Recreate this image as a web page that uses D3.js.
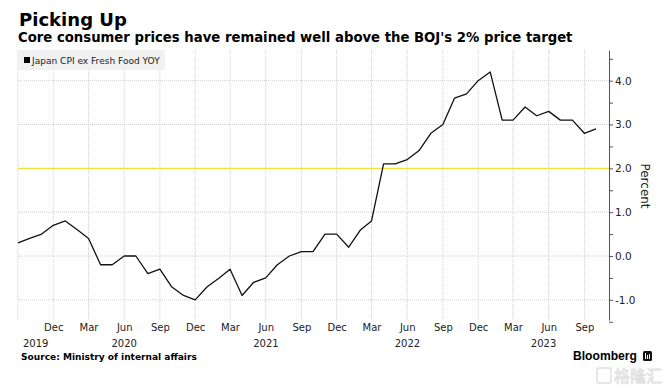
<!DOCTYPE html>
<html lang="en">
<head>
<meta charset="utf-8">
<title>Picking Up</title>
<script src="https://cdnjs.cloudflare.com/ajax/libs/d3/7.8.5/d3.min.js"></script>
<style>
  body { margin: 0; background: #fff; }
  svg { font-family: "DejaVu Sans", sans-serif; }
</style>
</head>
<body>
<script>
// Japan CPI ex Fresh Food, YoY %, monthly from Sep 2019 to Oct 2023
var firstMonth = [2019, 8];
var cpiValues = [
  0.3, 0.4, 0.5, 0.7,                                              // 2019 Sep-Dec
  0.8, 0.6, 0.4, -0.2, -0.2, 0.0, 0.0, -0.4, -0.3, -0.7, -0.9, -1.0, // 2020
  -0.7, -0.5, -0.3, -0.9, -0.6, -0.5, -0.2, 0.0, 0.1, 0.1, 0.5, 0.5, // 2021
  0.2, 0.6, 0.8, 2.1, 2.1, 2.2, 2.4, 2.8, 3.0, 3.6, 3.7, 4.0,        // 2022
  4.2, 3.1, 3.1, 3.4, 3.2, 3.3, 3.1, 3.1, 2.8, 2.9                   // 2023 Jan-Oct
];
var yTickValues = [-1.5, -1, -0.5, 0, 0.5, 1, 1.5, 2, 2.5, 3, 3.5, 4, 4.5];
var yGridValues = [-1, 0, 1, 3, 4];
var targetValue = 2;
var years = [2019, 2020, 2021, 2022, 2023];

var dates = cpiValues.map(function(v, i) {
  return d3.utcMonth.offset(new Date(Date.UTC(firstMonth[0], firstMonth[1], 1)), i);
});
var data = dates.map(function(d, i) { return { date: d, value: cpiValues[i] }; });

var plotLeft = 18, plotRight = 609, plotTop = 50, plotBottom = 320;

var svg = d3.select("body").append("svg")
  .attr("width", 670)
  .attr("height", 390);

var x = d3.scaleUtc()
  .domain([dates[0], dates[dates.length - 1]])
  .range([18, 596]);
var y = d3.scaleLinear()
  .domain([-1.46, 4.70])
  .range([plotBottom, plotTop]);

// fit a text to a measured width by scaling its font size
function fit(t, w) {
  var l = t.node().getComputedTextLength();
  t.attr("font-size", parseFloat(t.attr("font-size")) * w / l);
}

// titles
fit(svg.append("text").attr("x", 19).attr("y", 26)
  .attr("font-size", 20).attr("font-weight", "bold").attr("fill", "#000")
  .text("Picking Up"), 108);
fit(svg.append("text").attr("x", 18).attr("y", 42)
  .attr("font-size", 13).attr("font-weight", "bold").attr("fill", "#000")
  .text("Core consumer prices have remained well above the BOJ's 2% price target"), 555);

// vertical grid at Dec/Mar/Jun/Sep
var monthTicks = dates.filter(function(d) { return d.getUTCMonth() % 3 === 2; });
var grid = svg.append("g");
grid.selectAll(".vg").data(monthTicks).enter().append("line")
  .attr("x1", function(d) { return x(d); }).attr("x2", function(d) { return x(d); })
  .attr("y1", plotTop).attr("y2", plotBottom)
  .attr("stroke", "#cfcfcf").attr("stroke-dasharray", "1,1");
grid.selectAll(".hg").data(yGridValues).enter().append("line")
  .attr("x1", plotLeft).attr("x2", plotRight)
  .attr("y1", function(d) { return y(d); }).attr("y2", function(d) { return y(d); })
  .attr("stroke", "#cfcfcf").attr("stroke-dasharray", "1,1");

// legend
svg.append("rect").attr("x", 17).attr("y", 50).attr("width", 148).attr("height", 20)
  .attr("fill", "#f0f0f0").attr("opacity", 0.9);
svg.append("rect").attr("x", 24).attr("y", 57).attr("width", 6).attr("height", 6).attr("fill", "#000");
fit(svg.append("text").attr("x", 32).attr("y", 64)
  .attr("font-size", 9).attr("fill", "#222")
  .text("Japan CPI ex Fresh Food YOY"), 128);

// target line
svg.append("line")
  .attr("x1", plotLeft).attr("x2", plotRight)
  .attr("y1", y(targetValue)).attr("y2", y(targetValue))
  .attr("stroke", "#f0e03c").attr("stroke-width", 1.2);

// series
svg.append("path").datum(data)
  .attr("fill", "none").attr("stroke", "#111").attr("stroke-width", 1.3)
  .attr("stroke-linejoin", "round")
  .attr("d", d3.line().x(function(d) { return x(d.date); }).y(function(d) { return y(d.value); }));

// right axis
var yAxis = svg.append("g")
  .attr("transform", "translate(" + plotRight + ",0)")
  .call(d3.axisRight(y).tickValues(yTickValues).tickSize(4).tickSizeOuter(0).tickPadding(2)
    .tickFormat(function(d) { return Number.isInteger(d) ? d.toFixed(1) : ""; }));
yAxis.select(".domain").attr("stroke", "#555");
yAxis.selectAll(".tick line").attr("stroke", "#555");
yAxis.selectAll("text").attr("font-size", 10.5).attr("font-family", "DejaVu Sans").attr("fill", "#222");

svg.append("text")
  .attr("transform", "translate(641,186) rotate(90)")
  .attr("text-anchor", "middle").attr("font-size", 12).attr("fill", "#222")
  .text("Percent");

// bottom month labels
var xAxis = svg.append("g")
  .attr("transform", "translate(0,324)")
  .call(d3.axisBottom(x).tickValues(monthTicks.slice(1)).tickSize(0).tickPadding(0)
    .tickFormat(d3.utcFormat("%b")));
xAxis.select(".domain").remove();
xAxis.selectAll("text").attr("font-size", 10).attr("font-family", "DejaVu Sans").attr("fill", "#222");

// year labels centred on each year's span
var xEnd = plotRight;
svg.selectAll(".yr").data(years).enter().append("text")
  .attr("x", function(yr) {
    var a = Math.max(x(new Date(Date.UTC(yr - 1, 11, 1))), plotLeft);
    var b = Math.min(x(new Date(Date.UTC(yr, 11, 1))), xEnd);
    return (a + b) / 2;
  })
  .attr("y", 347).attr("text-anchor", "middle")
  .attr("font-size", 10).attr("fill", "#222")
  .text(function(yr) { return yr; });

// footer
fit(svg.append("text").attr("x", 21).attr("y", 360)
  .attr("font-size", 9).attr("font-weight", "bold").attr("fill", "#000")
  .text("Source: Ministry of internal affairs"), 176);
fit(svg.append("text").attr("x", 573).attr("y", 360)
  .attr("font-size", 11).attr("font-weight", "bold").attr("fill", "#000")
  .attr("font-family", "Liberation Sans, sans-serif")
  .text("Bloomberg"), 64);
svg.append("rect").attr("x", 643).attr("y", 351).attr("width", 9).attr("height", 10)
  .attr("rx", 1.5).attr("fill", "#111");
svg.append("path").attr("d", "M645.5,353v6M647.5,355v4M649.5,354v5")
  .attr("stroke", "#fff").attr("stroke-width", 1);

// watermark
svg.append("rect").attr("x", 597).attr("y", 368).attr("width", 14).attr("height", 15)
  .attr("rx", 2).attr("fill", "none").attr("stroke", "#e0e0e0").attr("stroke-width", 1.5);
svg.append("text").attr("x", 614).attr("y", 382)
  .attr("font-size", 16).attr("font-family", "Noto Sans CJK SC")
  .attr("fill", "#fff").attr("stroke", "#dedede").attr("stroke-width", 0.8)
  .text("格隆汇");
</script>
</body>
</html>
